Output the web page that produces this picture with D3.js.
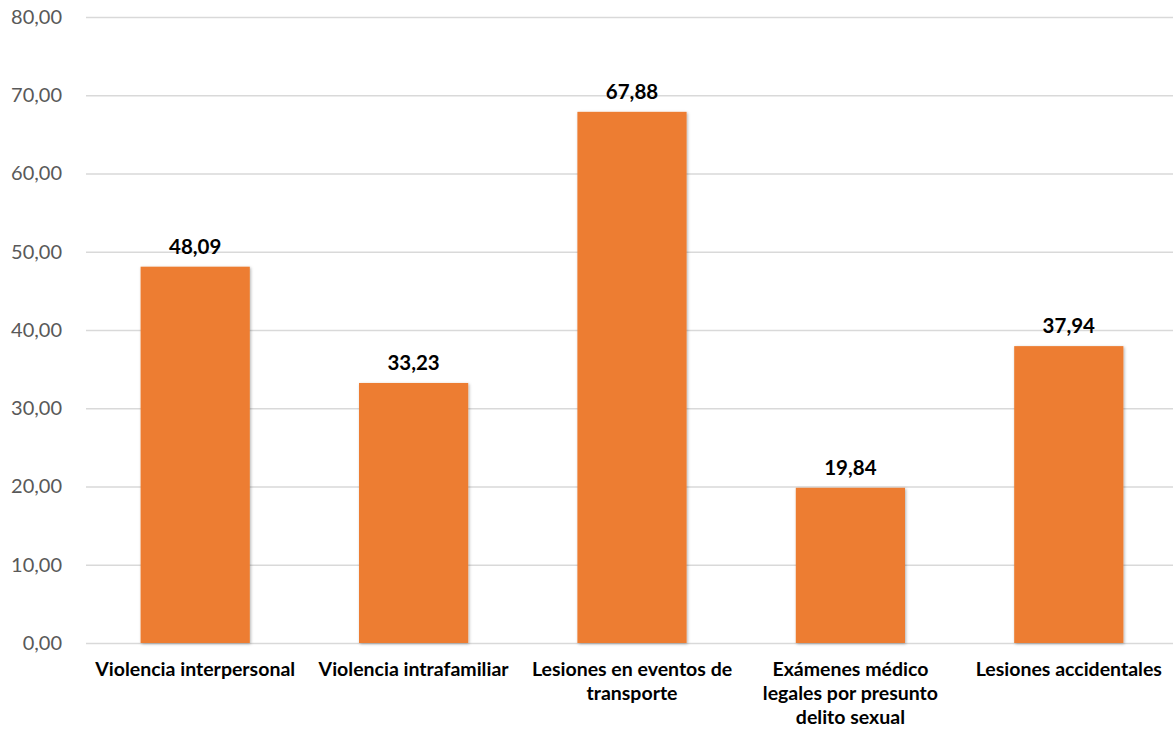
<!DOCTYPE html>
<html>
<head>
<meta charset="utf-8">
<script src="https://cdn.jsdelivr.net/npm/d3@7"></script>
<style>
  body { margin: 0; background: #fff; }
  svg { display: block; font-family: Lato, "Open Sans", sans-serif; }
</style>
</head>
<body>
<svg id="chart" width="1173" height="734"></svg>
<script>
'use strict';

// data
const categories = [
    'Violencia interpersonal',
    'Violencia intrafamiliar',
    'Lesiones en eventos de transporte',
    'Exámenes médico legales por presunto delito sexual',
    'Lesiones accidentales'
];
const categoryLines = [
    ['Violencia interpersonal'],
    ['Violencia intrafamiliar'],
    ['Lesiones en eventos de', 'transporte'],
    ['Exámenes médico', 'legales por presunto', 'delito sexual'],
    ['Lesiones accidentales']
];
const values = [48.09, 33.23, 67.88, 19.84, 37.94];
const yTicks = [0, 10, 20, 30, 40, 50, 60, 70, 80];

const fmt = v => d3.format('.2f')(v).replace('.', ',');

const svg = d3.select('#chart');

const x = d3.scaleBand()
    .domain(categories)
    .range([86, 1178])
    .paddingInner(0.5)
    .paddingOuter(0.25);

const y = d3.scaleLinear()
    .domain([0, 80])
    .range([643, 17]);

// shadow under bars
const defs = svg.append('defs');
defs.append('filter')
    .attr('id', 'shadow')
    .attr('x', '-10%').attr('y', '-10%')
    .attr('width', '120%').attr('height', '120%')
    .append('feDropShadow')
    .attr('dx', 1).attr('dy', 1)
    .attr('stdDeviation', 1.5)
    .attr('flood-color', '#000')
    .attr('flood-opacity', 0.3);

// gridlines + y labels
const yAxis = svg.append('g')
    .attr('transform', 'translate(86,0)')
    .call(d3.axisLeft(y).tickValues(yTicks).tickFormat(fmt).tickSize(-1100).tickPadding(24))
    .attr('font-family', null)
    .attr('font-size', null);

yAxis.select('.domain').remove();
yAxis.selectAll('.tick line')
    .attr('stroke', '#d9d9d9')
    .attr('stroke-width', 1.3);
yAxis.selectAll('.tick text')
    .attr('fill', '#595959')
    .attr('font-size', 20);

// bars
svg.append('g')
    .selectAll('rect')
    .data(values)
    .enter()
    .append('rect')
    .attr('x', (d, i) => x(categories[i]))
    .attr('y', d => y(d))
    .attr('width', x.bandwidth())
    .attr('height', d => y(0) - y(d))
    .attr('fill', '#ED7D31')
    .attr('filter', 'url(#shadow)');

// value labels
svg.append('g')
    .selectAll('text')
    .data(values)
    .enter()
    .append('text')
    .attr('x', (d, i) => x(categories[i]) + x.bandwidth() / 2)
    .attr('y', d => y(d) - 13)
    .attr('text-anchor', 'middle')
    .attr('font-size', 20.5)
    .attr('font-weight', 'bold')
    .attr('fill', '#000')
    .text(d => fmt(d));

// category labels
const catG = svg.append('g')
    .selectAll('text')
    .data(categories)
    .enter()
    .append('text')
    .attr('text-anchor', 'middle')
    .attr('font-size', 19.5)
    .attr('font-weight', 'bold')
    .attr('fill', '#000')
    .attr('transform', d => `translate(${x(d) + x.bandwidth() / 2},676)`);

catG.selectAll('tspan')
    .data((d, i) => categoryLines[i])
    .enter()
    .append('tspan')
    .attr('x', 0)
    .attr('dy', (d, i) => i === 0 ? 0 : 24)
    .text(d => d);
</script>
</body>
</html>
